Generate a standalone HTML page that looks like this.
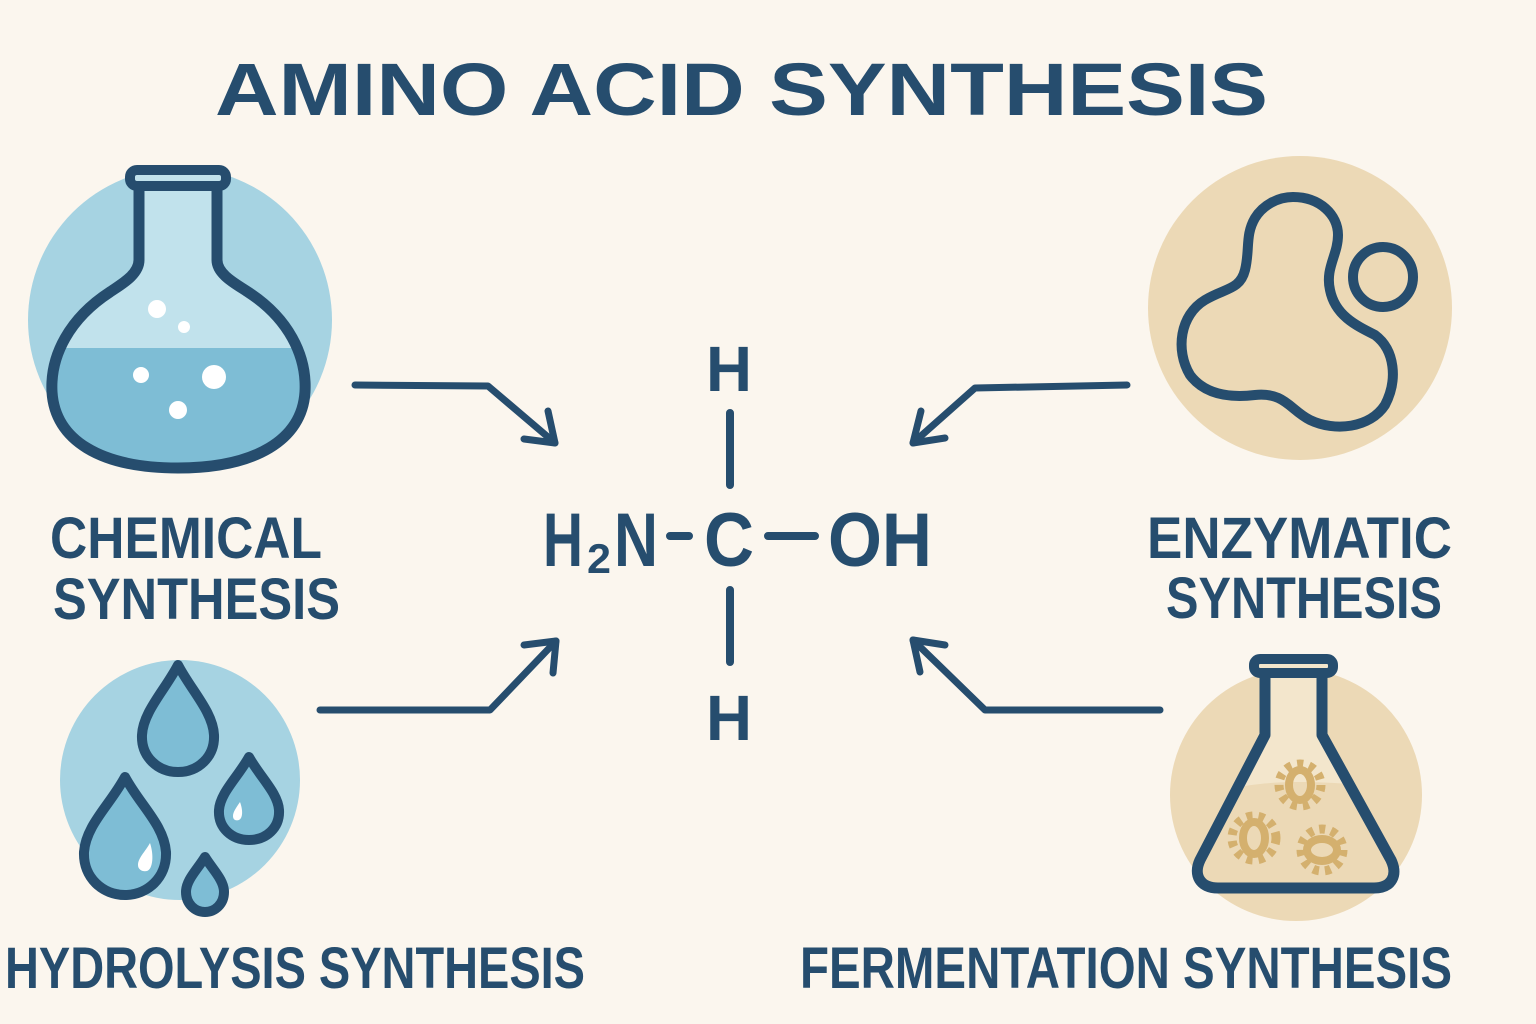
<!DOCTYPE html>
<html><head><meta charset="utf-8"><style>
html,body{margin:0;padding:0;background:#fbf6ee;}
svg{display:block}
text{font-family:"Liberation Sans",sans-serif;font-weight:bold;fill:#264d6e}
</style></head><body>
<svg width="1536" height="1024" viewBox="0 0 1536 1024" xmlns="http://www.w3.org/2000/svg">
<rect width="1536" height="1024" fill="#fbf6ee"/>
<text x="215" y="115" font-size="74" textLength="1053" lengthAdjust="spacingAndGlyphs">AMINO ACID SYNTHESIS</text>

<!-- chemical -->
<circle cx="180" cy="320" r="152" fill="#a6d3e2"/>
<path d="M139,184 L139,260 C139,275 120,285 110,292 C70,318 50,355 52,392 C55,440 100,468 178,468 C255,468 302,440 305,392 C307,355 288,318 248,292 C238,285 217,275 217,260 L217,184 Z" fill="#c1e2ec"/>
<path d="M60,348 L296,348 C305,370 306,400 300,415 C285,450 240,464 178,464 C118,464 72,450 58,415 C52,400 52,370 60,348 Z" fill="#7ebdd5"/>
<path d="M139,184 L139,260 C139,275 120,285 110,292 C70,318 50,355 52,392 C55,440 100,468 178,468 C255,468 302,440 305,392 C307,355 288,318 248,292 C238,285 217,275 217,260 L217,184" fill="none" stroke="#264d6e" stroke-width="11" stroke-linejoin="round"/>
<rect x="130" y="170" width="96" height="16" rx="7" fill="#c1e2ec" stroke="#264d6e" stroke-width="10"/>
<circle cx="157" cy="309" r="9" fill="#fff"/><circle cx="184" cy="327" r="6" fill="#fff"/>
<circle cx="141" cy="375" r="8" fill="#fff"/><circle cx="214" cy="377" r="12" fill="#fff"/><circle cx="178" cy="410" r="9" fill="#fff"/>

<!-- hydrolysis -->
<circle cx="180" cy="780" r="120" fill="#a6d3e2"/>
<g fill="#7ebdd5" stroke="#264d6e" stroke-width="10" stroke-linejoin="round">
<path d="M178,665 C165,690 143,712 142,735 C141,757 158,772 178,772 C198,772 215,757 214,735 C213,712 191,690 178,665 Z"/>
<path d="M125,777 C110,805 86,825 84,852 C83,878 103,895 125,895 C147,895 167,878 166,852 C164,825 140,805 125,777 Z"/>
<path d="M249,757 C238,777 220,793 219,810 C218,828 232,840 249,840 C266,840 280,828 279,810 C278,793 260,777 249,757 Z"/>
<path d="M205,857 C197,870 186,880 186,892 C186,904 195,912 205,912 C215,912 224,904 224,892 C224,880 213,870 205,857 Z"/>
</g>
<path d="M150,843 C145,852 138,858 138,865 C138,870 143,872 147,871 C153,869 154,855 150,843 Z" fill="#fff"/>
<path d="M240,802 C236,808 233,812 233,816 C233,820 236,821 239,820 C243,818 243,810 240,802 Z" fill="#fff"/>

<!-- enzymatic -->
<circle cx="1300" cy="308" r="152" fill="#ecd9b6"/>
<g fill="none" stroke="#264d6e" stroke-width="10">
<path d="M1293,197 C1320,197 1338,215 1338,235 C1338,255 1325,268 1330,290 C1335,315 1355,325 1375,335 C1395,350 1398,380 1385,405 C1370,428 1335,432 1310,420 C1290,410 1285,392 1255,395 C1230,398 1205,395 1190,375 C1175,350 1180,315 1205,300 C1225,288 1240,290 1245,270 C1250,250 1245,235 1255,218 C1263,205 1278,197 1293,197 Z"/>
<circle cx="1383" cy="277" r="30"/>
</g>

<!-- fermentation -->
<circle cx="1296" cy="795" r="126" fill="#ecd9b6"/>
<path d="M1265,672 L1265,735 L1200,860 C1193,875 1200,888 1218,888 L1374,888 C1392,888 1398,875 1391,860 L1322,735 L1322,672 Z" fill="#f3e6cc"/>
<path d="M1245,786 C1280,780 1320,782 1350,784 L1391,860 C1398,875 1392,888 1374,888 L1218,888 C1200,888 1193,875 1200,860 Z" fill="#ecd9b6"/>
<g fill="none" stroke="#d4b06e" stroke-width="8">
<ellipse cx="1300" cy="785" rx="11" ry="15"/><ellipse cx="1254" cy="838" rx="11" ry="16"/><ellipse cx="1322" cy="850" rx="15" ry="11"/>
</g>
<g stroke="#d4b06e" stroke-width="9" stroke-dasharray="6 6" fill="none">
<circle cx="1300" cy="785" r="21"/><circle cx="1254" cy="838" r="22"/><circle cx="1322" cy="850" r="21"/>
</g>
<path d="M1265,672 L1265,735 L1200,860 C1193,875 1200,888 1218,888 L1374,888 C1392,888 1398,875 1391,860 L1322,735 L1322,672" fill="none" stroke="#264d6e" stroke-width="11" stroke-linejoin="round"/>
<rect x="1254" y="659" width="79" height="14" rx="6" fill="#f3e6cc" stroke="#264d6e" stroke-width="10"/>

<!-- arrows -->
<g fill="none" stroke="#264d6e" stroke-width="7" stroke-linecap="round" stroke-linejoin="round">
<path d="M355,385 L488,386 L555,443"/><path d="M524,439 L555,443 L548,411"/>
<path d="M320,710 L490,710 L556,641"/><path d="M524,645 L556,641 L553,673"/>
<path d="M1127,385 L975,388 L913,443"/><path d="M921,411 L913,443 L945,438"/>
<path d="M1160,710 L985,710 L913,640"/><path d="M945,645 L913,640 L920,672"/>
<path d="M730,413 L730,485 M730,590 L730,662 M670,536 L689,536 M768,536 L815,536" stroke-width="8"/>
</g>

<!-- molecule text -->
<text x="706" y="391" font-size="64" textLength="46" lengthAdjust="spacingAndGlyphs">H</text>
<text x="706" y="740" font-size="64" textLength="46" lengthAdjust="spacingAndGlyphs">H</text>
<text x="543" y="566" font-size="76" textLength="40" lengthAdjust="spacingAndGlyphs">H</text>
<text x="587" y="573" font-size="42" textLength="24" lengthAdjust="spacingAndGlyphs">2</text>
<text x="614" y="566" font-size="76" textLength="44" lengthAdjust="spacingAndGlyphs">N</text>
<text x="704" y="566" font-size="76" textLength="50" lengthAdjust="spacingAndGlyphs">C</text>
<text x="828" y="566" font-size="76" textLength="104" lengthAdjust="spacingAndGlyphs">OH</text>

<!-- labels -->
<text x="50" y="558" font-size="58" textLength="272" lengthAdjust="spacingAndGlyphs">CHEMICAL</text>
<text x="53" y="619" font-size="58" textLength="287" lengthAdjust="spacingAndGlyphs">SYNTHESIS</text>
<text x="1147" y="558" font-size="58" textLength="305" lengthAdjust="spacingAndGlyphs">ENZYMATIC</text>
<text x="1166" y="618" font-size="58" textLength="276" lengthAdjust="spacingAndGlyphs">SYNTHESIS</text>
<text x="5" y="988" font-size="58" textLength="580" lengthAdjust="spacingAndGlyphs">HYDROLYSIS SYNTHESIS</text>
<text x="800" y="988" font-size="58" textLength="652" lengthAdjust="spacingAndGlyphs">FERMENTATION SYNTHESIS</text>
</svg>
</body></html>
